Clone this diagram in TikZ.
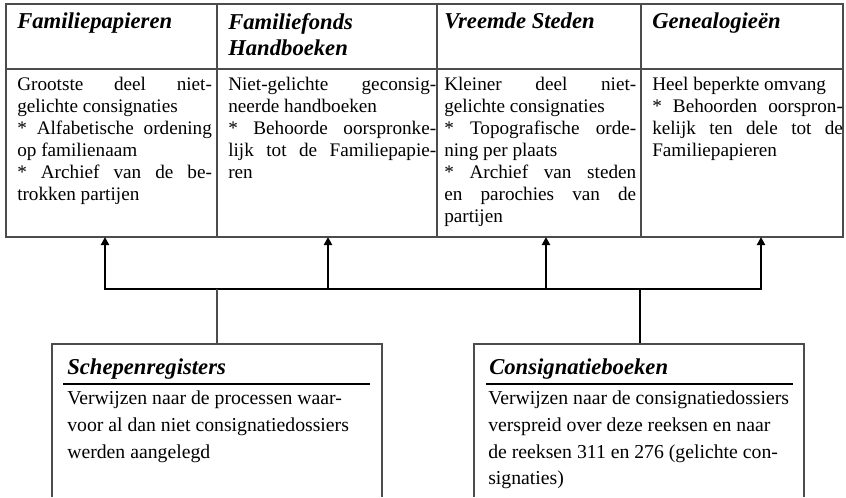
\documentclass[tikz,border=0pt]{standalone}
\usepackage{fontspec}
\setmainfont{Liberation Serif}
\usetikzlibrary{arrows.meta}
\hyphenpenalty=10000

\begin{document}
\begin{tikzpicture}[x=0.75pt,y=-0.75pt,
  lijn/.style={draw=black!70,line width=0.9pt},
  stam/.style={draw=black,line width=1.5pt},
  pijl/.style={stam,-{Triangle[length=6pt,width=6pt]}},
  kop/.style={anchor=north west,inner sep=0pt,align=left,
    font=\fontsize{17}{19.8}\selectfont\bfseries\itshape},
  tekst/.style={anchor=north west,inner sep=0pt,align=justify,
    font=\fontsize{14.4}{16.5}\selectfont},
  vak/.style={anchor=north west,inner sep=0pt,align=left,
    font=\fontsize{14.8}{19.9}\selectfont}]
  \useasboundingbox (0,0) rectangle (846,497);
  \draw[lijn] (6,4) rectangle (843,237);
  \draw[lijn] (6,69) -- (843,69);
  \foreach \x in {217,437,641}
    \draw[lijn] (\x,4) -- (\x,237);
  \node[kop] (h1) at (17,13) {Familiepapieren};
  \node[kop] (h2) at (228,13) {Familiefonds\\Handboeken};
  \node[kop] (h3) at (444,13) {Vreemde Steden};
  \node[kop] (h4) at (652,13) {Genealogieën};
  \node[tekst,text width=146pt] (b1) at (17,77) {Grootste deel niet-\linebreak
    gelichte consignaties\\{}* Alfabetische ordening\linebreak op familienaam\\{}*
    Archief van de be-\linebreak trokken partijen};
  \node[tekst,text width=156pt] (b2) at (228,77) {Niet-gelichte geconsig-\linebreak
    neerde handboeken\\{}* Behoorde oorspronke-\linebreak
    lijk tot de Familiepapie-\linebreak ren};
  \node[tekst,text width=144pt] (b3) at (444,77) {Kleiner deel niet-\linebreak
    gelichte consignaties\\{}* Topografische orde-\linebreak ning per plaats\\{}*
    Archief van steden\linebreak en parochies van de\linebreak partijen};
  \node[tekst,text width=143pt] (b4) at (652,77) {Heel beperkte omvang\\{}*
    Behoorden oorspron-\linebreak kelijk ten dele tot de\linebreak Familiepapieren};
  \foreach \x [count=\i] in {105,328,546,761} {
    \coordinate (a\i) at (\x,289);
    \coordinate (t\i) at (\x,237);
  }
  \draw[stam,{Triangle[length=6pt,width=6pt]}-{Triangle[length=6pt,width=6pt]}]
    (t1) -- (a1) -- (a4) -- (t4);
  \draw[pijl] (a2) -- (t2);
  \draw[pijl] (a3) -- (t3);
  \coordinate (s1) at (217,344);
  \coordinate (s2) at (640,344);
  \draw[lijn] (s1) -- (s1 |- a1);
  \draw[stam] (s2) -- (s2 |- a1);
  \draw[lijn] (52,497) -- (52,344) -- (382,344) -- (382,497);
  \draw[lijn] (474,497) -- (474,344) -- (804,344) -- (804,497);
  \draw[black,line width=0.9pt] (63,384) -- (370,384);
  \draw[black,line width=0.9pt] (486,384) -- (793,384);
  \node[kop] (sh) at (67,358.5) {Schepenregisters};
  \node[vak] (sb) at (67,391) {Verwijzen naar de processen waar-\\
    voor al dan niet consignatiedossiers\\ werden aangelegd};
  \node[kop] (ch) at (489,358.5) {Consignatieboeken};
  \node[vak] (cb) at (488,391) {Verwijzen naar de consignatiedossiers\\
    verspreid over deze reeksen en naar\\ de reeksen 311 en 276 (gelichte con-\\
    signaties)};
\end{tikzpicture}
\end{document}
